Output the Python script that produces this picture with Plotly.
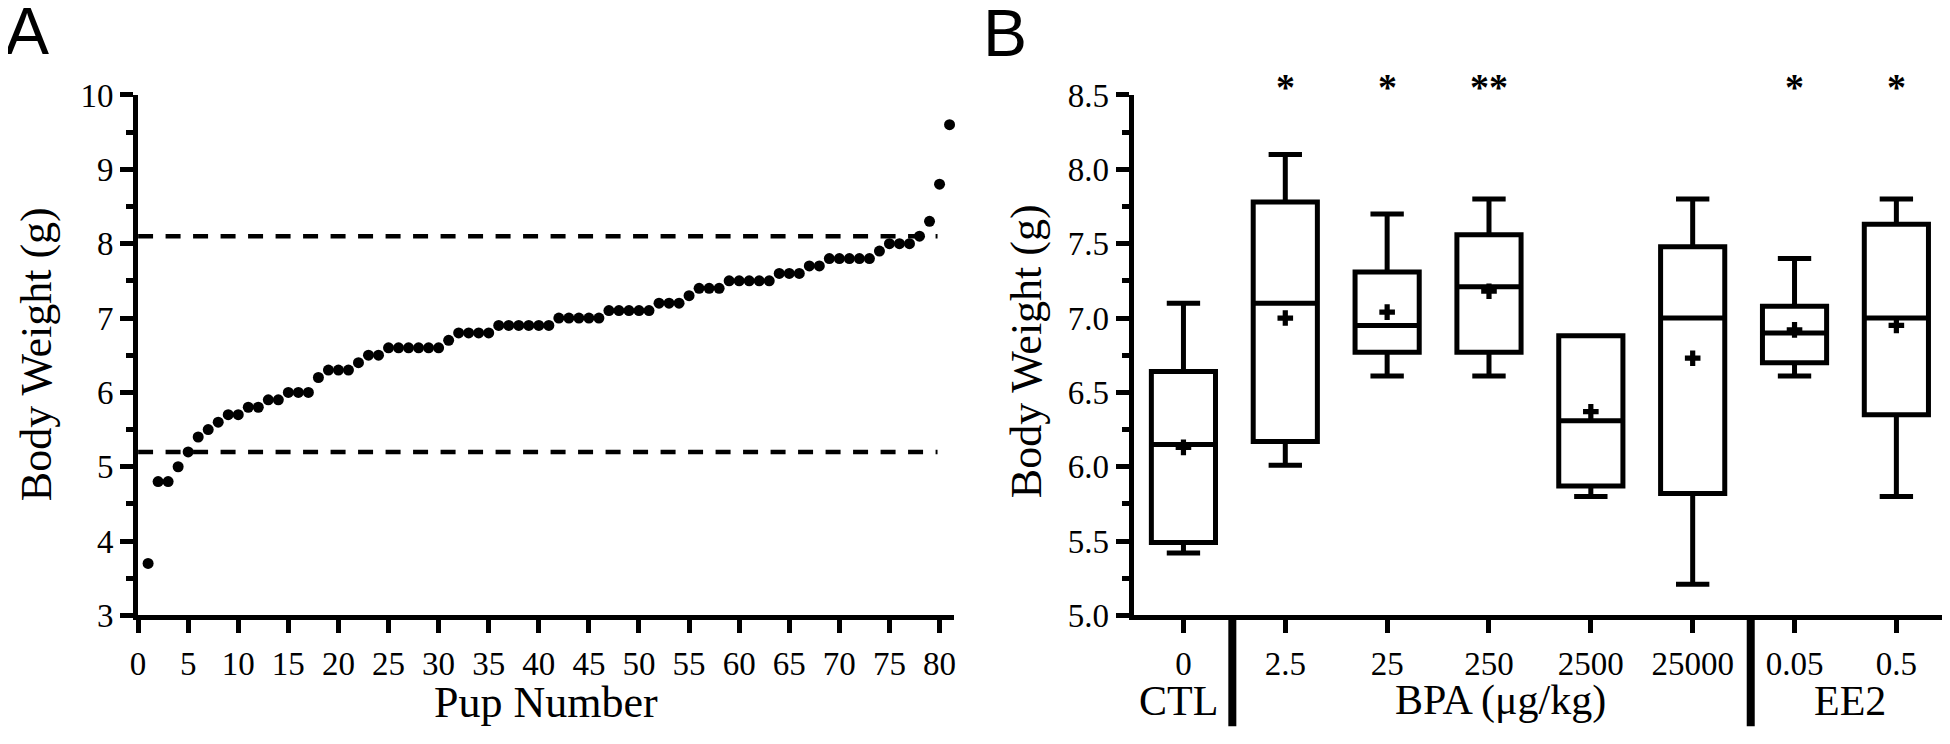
import plotly.graph_objects as go

# ---------------- Panel A data ----------------
pup_weights = [3.7, 4.8, 4.8, 5.0, 5.2, 5.4, 5.5, 5.6, 5.7, 5.7,
               5.8, 5.8, 5.9, 5.9, 6.0, 6.0, 6.0, 6.2, 6.3, 6.3,
               6.3, 6.4, 6.5, 6.5, 6.6, 6.6, 6.6, 6.6, 6.6, 6.6,
               6.7, 6.8, 6.8, 6.8, 6.8, 6.9, 6.9, 6.9, 6.9, 6.9,
               6.9, 7.0, 7.0, 7.0, 7.0, 7.0, 7.1, 7.1, 7.1, 7.1,
               7.1, 7.2, 7.2, 7.2, 7.3, 7.4, 7.4, 7.4, 7.5, 7.5,
               7.5, 7.5, 7.5, 7.6, 7.6, 7.6, 7.7, 7.7, 7.8, 7.8,
               7.8, 7.8, 7.8, 7.9, 8.0, 8.0, 8.0, 8.1, 8.3, 8.8,
               9.6]
pup_numbers = list(range(1, len(pup_weights) + 1))
ref_lines = [8.1, 5.2]
ref_line_x = [0, 79.8]
a_xticks = [0, 5, 10, 15, 20, 25, 30, 35, 40, 45, 50, 55, 60, 65, 70, 75, 80]

# ---------------- Panel B data ----------------
doses = ["0", "2.5", "25", "250", "2500", "25000", "0.05", "0.5"]
positions = [0, 1, 2, 3, 4, 5, 6, 7]
lower = [5.42, 6.01, 6.61, 6.61, 5.80, 5.21, 6.61, 5.80]
q1 = [5.49, 6.17, 6.77, 6.77, 5.87, 5.82, 6.70, 6.35]
median = [6.15, 7.10, 6.95, 7.21, 6.31, 7.00, 6.90, 7.00]
q3 = [6.64, 7.78, 7.31, 7.56, 6.88, 7.48, 7.08, 7.63]
upper = [7.10, 8.10, 7.70, 7.80, 6.88, 7.80, 7.40, 7.80]
means = [6.13, 7.00, 7.04, 7.18, 6.37, 6.73, 6.92, 6.95]
stars = ["", "*", "*", "**", "", "", "*", "*"]
groups = ["CTL", "BPA (μg/kg)", "EE2"]
group_centers_px = [1168, 1492, 1843]
separators = [0.48, 5.57]

W, H = 1950, 744
SERIF = "Liberation Serif"
SANS = "Liberation Sans"

def px_x(p):
    return p / W

def px_y(p):
    return 1 - p / H

fig = go.Figure()

# Panel A
for v in ref_lines:
    fig.add_trace(go.Scatter(x=ref_line_x, y=[v, v], mode="lines",
                             line=dict(color="black", width=4.5, dash="15px,12.5px"),
                             xaxis="x", yaxis="y", hoverinfo="skip"))
fig.add_trace(go.Scatter(x=pup_numbers, y=pup_weights, mode="markers",
                         marker=dict(color="black", size=11),
                         xaxis="x", yaxis="y", cliponaxis=False))

# Panel B
fig.add_trace(go.Box(x=positions, q1=q1, median=median, q3=q3,
                     lowerfence=lower, upperfence=upper,
                     width=0.63, whiskerwidth=0.52,
                     fillcolor="white", line=dict(color="black", width=5),
                     boxpoints=False, xaxis="x2", yaxis="y2"))
fig.add_trace(go.Scatter(x=positions, y=means, mode="markers",
                         marker=dict(symbol="cross", size=13, color="black"),
                         xaxis="x2", yaxis="y2", cliponaxis=False))

axis_common = dict(showline=True, linewidth=5, linecolor="black", mirror=False,
                   ticks="outside", ticklen=13, tickwidth=5, tickcolor="black",
                   showgrid=False, zeroline=False,
                   tickfont=dict(family=SERIF, size=33, color="black"))

y_dom = [px_y(620.5), px_y(73.5)]
fig.update_layout(
    width=W, height=H,
    margin=dict(l=0, r=0, t=0, b=0),
    paper_bgcolor="white", plot_bgcolor="white",
    showlegend=False,
    xaxis=dict(domain=[px_x(122.7), px_x(943)], range=[0, 81.46],
               tickvals=a_xticks, anchor="y", ticklabelstandoff=2, **axis_common),
    yaxis=dict(domain=y_dom, range=[3, 10], tickvals=[3, 4, 5, 6, 7, 8, 9, 10],
               minor=dict(dtick=0.5, ticklen=7, tickwidth=5, tickcolor="black", ticks="outside"),
               anchor="x", **axis_common),
    xaxis2=dict(domain=[px_x(1123.3), px_x(1943.3)], range=[-0.49, 7.52],
                tickvals=positions, ticktext=doses, anchor="y2", ticklabelstandoff=2,
                **axis_common),
    yaxis2=dict(domain=y_dom, range=[5, 8.5], tickvals=[5, 5.5, 6, 6.5, 7, 7.5, 8, 8.5],
                tickformat=".1f",
                minor=dict(dtick=0.25, ticklen=7, tickwidth=5, tickcolor="black", ticks="outside"),
                anchor="x2", **axis_common),
)

ann = []
ann.append(dict(text="A", x=px_x(-13), y=px_y(-35), xref="paper", yref="paper",
                xanchor="left", yanchor="top", showarrow=False,
                font=dict(family=SANS, size=66, color="black")))
ann.append(dict(text="B", x=px_x(970), y=px_y(-33), xref="paper", yref="paper",
                xanchor="left", yanchor="top", showarrow=False,
                font=dict(family=SANS, size=66, color="black")))
ann.append(dict(text="Body Weight (g)", x=px_x(20), y=px_y(346), xref="paper", yref="paper",
                xanchor="center", yanchor="middle", textangle=-90, showarrow=False,
                font=dict(family=SERIF, size=44, color="black")))
ann.append(dict(text="Body Weight (g)", x=px_x(1016), y=px_y(343), xref="paper", yref="paper",
                xanchor="center", yanchor="middle", textangle=-90, showarrow=False,
                font=dict(family=SERIF, size=44, color="black")))
ann.append(dict(text="Pup Number", x=px_x(533), y=px_y(712), xref="paper", yref="paper",
                xanchor="center", yanchor="middle", showarrow=False,
                font=dict(family=SERIF, size=44, color="black")))
for g, cx in zip(groups, group_centers_px):
    ann.append(dict(text=g, x=px_x(cx), y=px_y(710), xref="paper", yref="paper",
                    xanchor="center", yanchor="middle", showarrow=False,
                    font=dict(family=SERIF, size=42, color="black")))
for p, s in zip(positions, stars):
    if s:
        ann.append(dict(text="<b>" + s + "</b>", x=p, y=px_y(65), xref="x2", yref="paper",
                        xanchor="center", yanchor="middle", showarrow=False,
                        font=dict(family=SERIF, size=38, color="black")))
fig.update_layout(annotations=ann)

shapes = []
for sx in separators:
    shapes.append(dict(type="line", xref="x2", yref="paper", x0=sx, x1=sx,
                       y0=px_y(620.5), y1=px_y(737), line=dict(color="black", width=8)))
fig.update_layout(shapes=shapes)

fig.write_html("out.html")
